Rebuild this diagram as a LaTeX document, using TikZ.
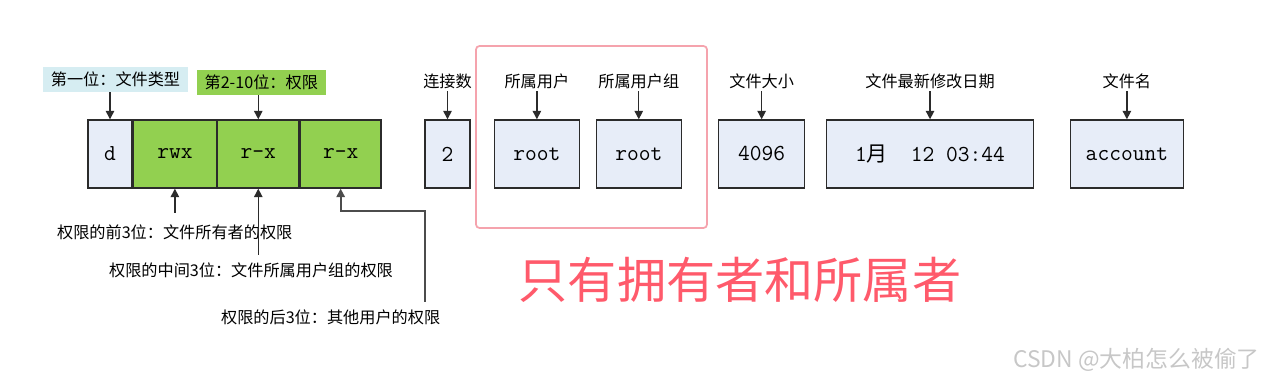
\documentclass[tikz,border=0pt]{standalone}
\usepackage{fontspec}
\usepackage{xcolor}
\usetikzlibrary{arrows.meta, positioning}
\setmainfont{Liberation Serif}
\newfontfamily\cjk{Noto Sans CJK SC}

\definecolor{cellbg}{HTML}{E7EDF8}
\definecolor{permgreen}{HTML}{92D050}
\definecolor{typecyan}{HTML}{D6EDF2}
\definecolor{ownpink}{HTML}{F5A3AD}
\definecolor{ownred}{HTML}{FF5A6B}
\definecolor{linegray}{HTML}{2B2B2B}

\begin{document}
\begin{tikzpicture}[
    x=0.02cm, y=-0.02cm,
    node distance=0.5cm,
    cell/.style={rectangle, draw=linegray, line width=0.8pt, fill=cellbg, minimum height=1.36cm, inner sep=0pt, font=\ttfamily\fontsize{13}{15}\selectfont},
    perm/.style={cell, fill=permgreen},
    tag/.style={rectangle, inner sep=1pt, font=\cjk\fontsize{9.2}{11}\selectfont},
    tagbox/.style={tag, minimum height=0.5cm},
    note/.style={tag, anchor=west},
    arr/.style={-{Triangle[length=1.7mm, width=1.7mm]}, line width=0.8pt, linegray}
]
\useasboundingbox (0,0) rectangle (1270,384);

% file type + permission bits
\node[cell, minimum width=0.88cm] (typ) at (110,154) {d};
\node[perm, minimum width=1.66cm, right=0pt of typ] (own) {rwx};
\node[perm, minimum width=1.62cm, right=0pt of own] (grp) {r-x};
\node[perm, minimum width=1.62cm, right=0pt of grp] (oth) {r-x};

\node[tagbox, fill=typecyan, minimum width=2.9cm, above=0.54cm of typ, xshift=0.11cm] (typlbl) {第一位：文件类型};
\node[tagbox, fill=permgreen, minimum width=2.58cm, above=0.48cm of grp, xshift=0.06cm] (permlbl) {第2-10位：权限};

% remaining columns
\node[cell, minimum width=0.9cm] (links) at (447.5,154) {2};
\node[cell, minimum width=1.7cm, right=0.46cm of links] (user) {root};
\node[cell, minimum width=1.7cm, right=0.31cm of user] (group) {root};
\node[cell, minimum width=1.72cm, right=0.72cm of group] (size) {4096};
\node[cell, minimum width=4.14cm, right=0.41cm of size] (date) {1{\cjk\fontsize{12}{14}\selectfont 月}\quad 12 03:44};
\node[cell, minimum width=2.26cm, right=0.71cm of date] (name) {account};

\node[tag, above=0.56cm of links] (linkslbl) {连接数};
\node[tag, above=0.56cm of user] (userlbl) {所属用户};
\node[tag, above=0.56cm of group] (grouplbl) {所属用户组};
\node[tag, above=0.56cm of size] (sizelbl) {文件大小};
\node[tag, above=0.56cm of date] (datelbl) {文件最新修改日期};
\node[tag, above=0.56cm of name] (namelbl) {文件名};

% notes below
\node[note] (ownnote) at (55,232) {权限的前3位：文件所有者的权限};
\node[note] (grpnote) at (107,270) {权限的中间3位：文件所属用户组的权限};
\node[note] (othnote) at (219,317) {权限的后3位：其他用户的权限};

\coordinate (ownfoot) at (own.south |- 0,213);
\coordinate (grpfoot) at (grp.south |- 0,255);
\coordinate (othfoot) at (425,302);

% owner frame
\draw[ownpink, line width=1pt, rounded corners=2pt] (476,46) rectangle (707,228);
\node[font=\cjk\fontsize{28}{32}\selectfont, text=ownred] (ownmsg) at (740,280) {只有拥有者和所属者};

% arrows
\draw[arr] ([xshift=-0.11cm]typlbl.south) -- (typ.north);
\draw[arr] (permlbl.south -| grp.north) -- (grp.north);
\draw[arr] (linkslbl) -- (links);
\draw[arr] (userlbl) -- (user);
\draw[arr] (grouplbl) -- (group);
\draw[arr] (sizelbl) -- (size);
\draw[arr] (datelbl) -- (date);
\draw[arr] (namelbl) -- (name);
\draw[arr] (ownfoot) -- (own.south);
\draw[arr] (grpfoot) -- (grp.south);
\draw[arr, line width=1pt, black!70] (othfoot) |- ([yshift=-0.44cm]oth.south) -- (oth.south);

\node[font=\cjk\fontsize{13}{15}\selectfont, text=black!22, anchor=east] (mark) at (1266,360) {CSDN @大柏怎么被偷了};
\end{tikzpicture}
\end{document}
